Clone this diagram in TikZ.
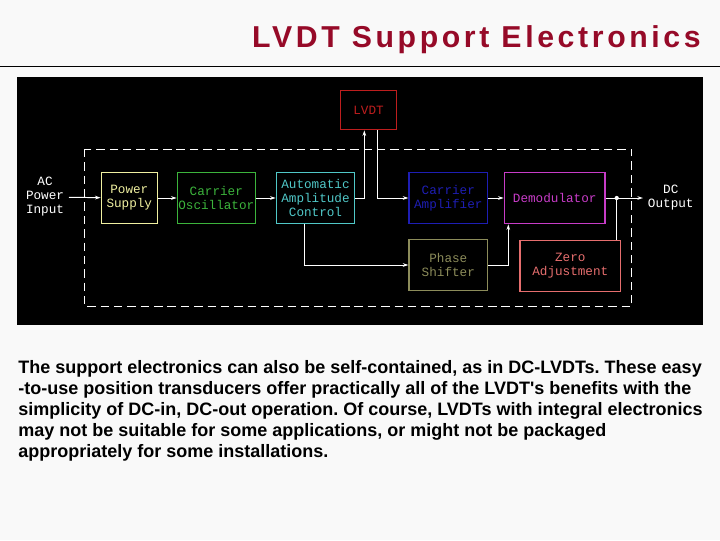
\documentclass[tikz,border=0pt]{standalone}
\usepackage{fontspec}
\setmainfont{Liberation Sans}
\newfontfamily\boxfont{Liberation Mono}
\newfontfamily\headfont[LetterSpace=12]{Liberation Sans}
\usetikzlibrary{positioning,arrows.meta,calc}
\definecolor{pagebg}{RGB}{249,249,249}
\definecolor{titlered}{RGB}{150,10,40}
\definecolor{lvdtred}{RGB}{190,30,30}
\definecolor{psyellow}{RGB}{240,240,160}
\definecolor{oscgreen}{RGB}{60,180,60}
\definecolor{aaccyan}{RGB}{80,200,200}
\definecolor{ampblue}{RGB}{30,30,180}
\definecolor{demmagenta}{RGB}{200,60,200}
\definecolor{phaseolive}{RGB}{140,140,90}
\definecolor{zerosalmon}{RGB}{230,110,110}

\begin{document}
\begin{tikzpicture}[
    x=0.025cm, y=-0.025cm,
    blk/.style={draw, line width=0.9pt, inner sep=0pt, minimum width=1.96cm, minimum height=1.285cm, align=center, font=\boxfont\fontsize{9}{10}\selectfont},
    lbl/.style={text=white, align=center, font=\boxfont\fontsize{9}{10}\selectfont},
    flow/.style={draw=white, line width=0.7pt, -{Stealth[length=4pt,width=2.6pt]}},
    wire/.style={draw=white, line width=0.7pt}
]
    \fill[pagebg] (0,0) rectangle (720,540);
    \useasboundingbox (0,0) rectangle (720,540);

    % heading
    \node[anchor=base east, inner sep=0pt, text=titlered, font=\headfont\bfseries\fontsize{21.5}{24}\selectfont] (title) at (701,47) {LVDT Support Electronics};
    \draw[black, line width=0.7pt] (0,66) -- (720,66);

    % diagram panel
    \fill[black] (17,77) rectangle (703,325);
    \draw[white, line width=0.7pt, dash pattern=on 6pt off 3.5pt] (84.7,149) rectangle (631.7,306.7);

    \node[blk, draw=lvdtred, text=lvdtred, minimum width=1.41cm, minimum height=0.985cm] (lvdt) at (368.5,110) {LVDT};
    \node[blk, draw=psyellow, text=psyellow, minimum width=1.4cm] (power) at (129.3,198) {Power\\Supply};
    \node[blk, draw=oscgreen, text=oscgreen, minimum width=1.95cm] (osc) at (216.3,198) {Carrier\\Oscillator};
    \node[blk, draw=aaccyan, text=aaccyan] (aac) at (315.5,198) {Automatic\\Amplitude\\Control};
    \node[blk, draw=ampblue, text=ampblue] (amp) at (448.3,198) {Carrier\\Amplifier};
    \node[blk, draw=demmagenta, text=demmagenta, minimum width=2.52cm] (demod) at (554.7,198) {Demodulator};
    \node[blk, draw=phaseolive, text=phaseolive, minimum height=1.275cm] (phase) at (448.3,265) {Phase\\Shifter};
    \node[blk, draw=zerosalmon, text=zerosalmon, minimum width=2.52cm, minimum height=1.275cm] (zero) at (570.3,266) {Zero\\Adjustment};

    \node[lbl, anchor=east] (acin) at (69,197) {AC\\Power\\Input};
    \node[lbl, anchor=west] (dcout) at (643,198) {DC\\Output};
    \coordinate (jn) at (616.7,198);

    \draw[flow] (acin) -- (power);
    \draw[flow] (power) -- (osc);
    \draw[flow] (osc) -- (aac);
    \draw[flow] (aac.east) -| ([xshift=-0.105cm]lvdt.south);
    \draw[flow] ([xshift=0.22cm]lvdt.south) |- (amp.west);
    \draw[flow] (amp) -- (demod);
    \draw[flow] ([xshift=-0.27cm]aac.south) |- (phase.west);
    \draw[flow] (phase.east) -| ([xshift=-1.16cm]demod.south);
    \draw[flow] (demod.east) -- (dcout.west);
    \draw[wire] (zero.north -| jn) -- (jn);
    \fill[white] (jn) circle (1.5pt);

    % caption text
    \node[anchor=north west, inner sep=0pt, align=left, font=\bfseries\frenchspacing\fontsize{12.8}{15.0}\selectfont] (para) at (18,360) {The support electronics can also be self-contained, as in DC-LVDTs. These easy\\
-to-use position transducers offer practically all of the LVDT\textquotesingle s benefits with the\\
simplicity of DC-in, DC-out operation. Of course, LVDTs with integral electronics\\
may not be suitable for some applications, or might not be packaged\\
appropriately for some installations.};
\end{tikzpicture}
\end{document}
